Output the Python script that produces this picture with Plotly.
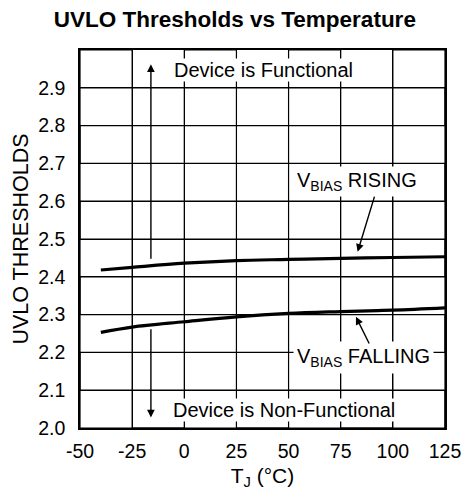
import plotly.graph_objects as go

FONT = "Liberation Sans, Arial, Helvetica, sans-serif"

# Data
temperature = [-40, -25, 0, 25, 50, 75, 100, 125]
vbias_rising = [2.418, 2.425, 2.436, 2.443, 2.446, 2.449, 2.451, 2.453]
vbias_falling = [2.253, 2.267, 2.281, 2.294, 2.303, 2.308, 2.312, 2.318]

x_ticks = [-50, -25, 0, 25, 50, 75, 100, 125]
x_tick_labels = ["-50", "-25", "0", "25", "50", "75", "100", "125"]
y_ticks = [2.0, 2.1, 2.2, 2.3, 2.4, 2.5, 2.6, 2.7, 2.8, 2.9]
y_tick_labels = ["2.0", "2.1", "2.2", "2.3", "2.4", "2.5", "2.6", "2.7", "2.8", "2.9"]
x_range = [-50, 125]
y_range = [2.0, 3.0]

fig = go.Figure()

# grid drawn as one continuous serpentine path through the tick values
# (the connecting runs lie on the plot border)
vx, vy = [], []
for i, xv in enumerate(x_ticks):
    ends = y_range if i % 2 == 0 else y_range[::-1]
    vx += [xv, xv]
    vy += list(ends)
fig.add_trace(go.Scatter(x=vx, y=vy, mode="lines", line=dict(color="black", width=1.2),
                         hoverinfo="skip", showlegend=False))
hx, hy = [], []
for i, yv in enumerate(y_ticks):
    ends = x_range if i % 2 == 0 else x_range[::-1]
    hx += list(ends)
    hy += [yv, yv]
fig.add_trace(go.Scatter(x=hx, y=hy, mode="lines", line=dict(color="black", width=1.2),
                         hoverinfo="skip", showlegend=False))

fig.add_trace(go.Scatter(x=temperature, y=vbias_rising, mode="lines",
                         line=dict(color="black", width=3.2, shape="spline"),
                         name="VBIAS RISING", showlegend=False))
fig.add_trace(go.Scatter(x=temperature, y=vbias_falling, mode="lines",
                         line=dict(color="black", width=3.2, shape="spline"),
                         name="VBIAS FALLING", showlegend=False))

txt = dict(family=FONT, size=20, color="black")
annotations = [
    dict(x=38.2, y=2.947, text="Device is Functional", showarrow=False,
         font=txt, bgcolor="white", borderpad=0, xanchor="center", yanchor="middle"),
    dict(x=47.8, y=2.048, text="Device is Non-Functional", showarrow=False,
         font=txt, bgcolor="white", borderpad=0, xanchor="center", yanchor="middle"),
    dict(x=83, y=2.653, text="V<sub>BIAS</sub> RISING", showarrow=False,
         font=txt, bgcolor="white", borderpad=2, xanchor="center", yanchor="middle"),
    dict(x=85.9, y=2.1865, text="V<sub>BIAS</sub> FALLING", showarrow=False,
         font=txt, bgcolor="white", borderpad=3, xanchor="center", yanchor="middle"),
]
arrow_common = dict(text="", showarrow=True, xref="x", yref="y", axref="x", ayref="y",
                    arrowhead=2, arrowsize=1.1, arrowwidth=1.4, arrowcolor="black")
arrows = [
    dict(x=-16, y=2.962, ax=-16, ay=2.444, **arrow_common),
    dict(x=-16, y=2.028, ax=-16, ay=2.265, **arrow_common),
    dict(x=83.1, y=2.466, ax=91.4, ay=2.616, **arrow_common),
    dict(x=82.3, y=2.294, ax=89.0, ay=2.2196, **arrow_common),
]

fig.update_layout(
    template="none",
    width=465, height=500,
    margin=dict(l=80, r=20, t=50, b=72, autoexpand=False),
    paper_bgcolor="white", plot_bgcolor="white",
    font=dict(family=FONT, color="black"),
    title=dict(text="<b>UVLO Thresholds vs Temperature</b>", x=0.505, xanchor="center",
               y=0.962, yanchor="middle", font=dict(family=FONT, size=22.5, color="black")),
    annotations=annotations + arrows,
    showlegend=False,
    hovermode=False,
)
fig.update_xaxes(
    range=x_range, tickvals=x_ticks, ticktext=x_tick_labels, automargin=False,
    showgrid=True, gridcolor="black", gridwidth=1.2, zeroline=False,
    showline=True, linecolor="black", linewidth=1.5, mirror=True,
    ticks="outside", ticklen=5, tickcolor="white", tickwidth=1,
    tickfont=dict(family=FONT, size=19.5, color="black"),
    title=dict(text="T<sub>J</sub> (°C)", font=dict(family=FONT, size=21, color="black"), standoff=7),
)
fig.update_yaxes(
    range=y_range, tickvals=y_ticks, ticktext=y_tick_labels, automargin=False,
    showgrid=True, gridcolor="black", gridwidth=1.2, zeroline=False,
    showline=True, linecolor="black", linewidth=1.5, mirror=True,
    ticks="outside", ticklen=9, tickcolor="white", tickwidth=1,
    tickfont=dict(family=FONT, size=19.5, color="black"),
    title=dict(text="UVLO THRESHOLDS", font=dict(family=FONT, size=21.5, color="black"), standoff=4),
)

fig.write_html("out.html", config={"displayModeBar": False},
               post_script="document.body.style.margin='0';")
